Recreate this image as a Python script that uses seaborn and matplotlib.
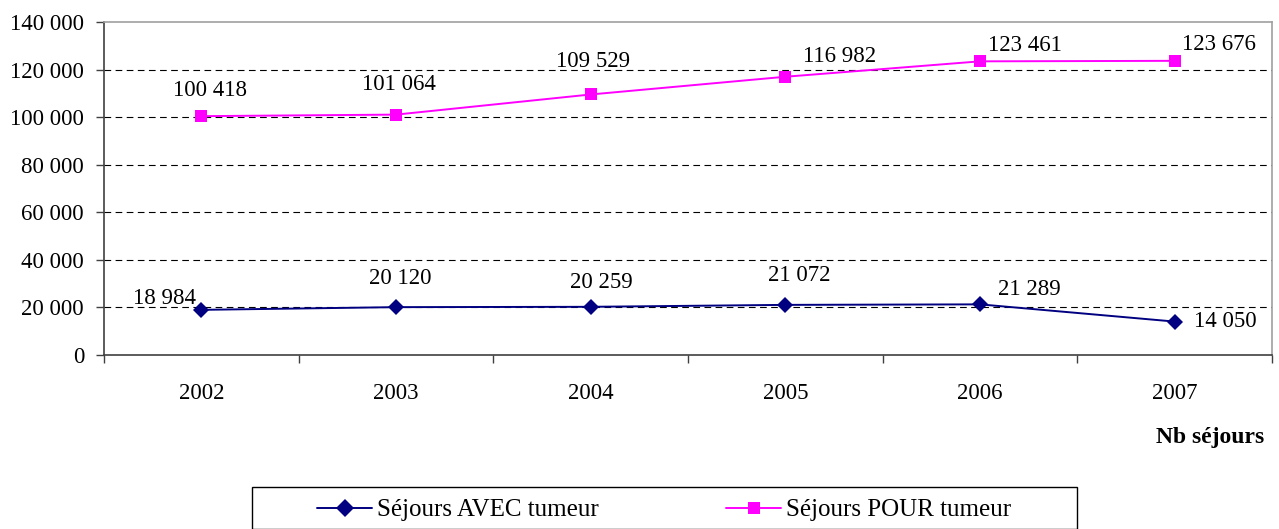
import matplotlib
matplotlib.use("Agg")
import matplotlib.pyplot as plt
import seaborn as sns
import pandas as pd
from matplotlib.ticker import FixedLocator, NullFormatter, FuncFormatter
from matplotlib.lines import Line2D
from matplotlib.patches import Rectangle

years = ["2002", "2003", "2004", "2005", "2006", "2007"]
avec = [18984, 20120, 20259, 21072, 21289, 14050]
pour = [100418, 101064, 109529, 116982, 123461, 123676]
series_names = ["Séjours AVEC tumeur", "Séjours POUR tumeur"]
y_ticks = [0, 20000, 40000, 60000, 80000, 100000, 120000, 140000]

sns.set_style("white")
plt.rcParams["font.family"] = ["Liberation Serif", "DejaVu Serif"]
plt.rcParams["text.color"] = "black"
plt.rcParams["xtick.color"] = "#404040"
plt.rcParams["ytick.color"] = "#404040"
plt.rcParams["xtick.labelcolor"] = "black"
plt.rcParams["ytick.labelcolor"] = "black"

W, H = 1279, 529
fig = plt.figure(figsize=(W / 100, H / 100), dpi=100)
ax = fig.add_axes([104 / W, 1 - 355 / H, (1272 - 104) / W, (355 - 22) / H])

x = list(range(len(years)))
df = pd.DataFrame({
    "x": x * 2,
    "value": avec + pour,
    "serie": [series_names[0]] * 6 + [series_names[1]] * 6,
})
palette = {series_names[0]: "#000080", series_names[1]: "#FF00FF"}
sns.lineplot(data=df, x="x", y="value", hue="serie", style="serie",
             markers={series_names[0]: "D", series_names[1]: "s"},
             dashes=False, palette=palette, ax=ax, linewidth=1.4,
             markersize=8.5, markeredgewidth=0, legend=False)

ax.set_xlim(-0.5, 5.5)
ax.set_ylim(0, 140000)
ax.yaxis.set_major_locator(FixedLocator(y_ticks))
ax.yaxis.set_major_formatter(FuncFormatter(lambda v, p: f"{int(v):,}".replace(",", " ")))
ax.xaxis.set_major_locator(FixedLocator([i - 0.5 for i in range(len(years) + 1)]))
ax.xaxis.set_major_formatter(NullFormatter())
ax.xaxis.set_minor_locator(FixedLocator(x))
ax.set_xticklabels(years, minor=True)
ax.tick_params(axis="x", which="major", length=6, width=1, direction="out", bottom=True)
ax.tick_params(axis="x", which="minor", length=0, pad=20, labelsize=16.5)
ax.tick_params(axis="y", which="major", length=6, width=1, direction="out", left=True,
               labelsize=16.5, pad=8.4)
ax.set_xlabel("")
ax.set_ylabel("")

for yv in y_ticks[1:-1]:
    ax.axhline(yv, color="black", linestyle=(0, (6, 4)), linewidth=0.8, zorder=0)

for s in ["left", "bottom"]:
    ax.spines[s].set_color("#404040")
    ax.spines[s].set_linewidth(1.2)
for s in ["top", "right"]:
    ax.spines[s].set_color("#A0A0A0")
    ax.spines[s].set_linewidth(1.2)


def fmt(v):
    return f"{v:,}".replace(",", " ")


px = 0.72
pour_off = [(9, 25), (3, 29), (2, 32), (54, 19), (45, 15), (44, 15)]
avec_off = [(-37, 10), (4, 28), (11, 23), (14, 28), (49, 14), (51, -1)]
for i in range(len(years)):
    dx, dy = pour_off[i]
    ax.annotate(fmt(pour[i]), (x[i], pour[i]), xytext=(dx * px, (dy + 1) * px),
                textcoords="offset points", ha="center", va="center", fontsize=16.5)
    dx, dy = avec_off[i]
    ax.annotate(fmt(avec[i]), (x[i], avec[i]), xytext=(dx * px, (dy + 1) * px),
                textcoords="offset points", ha="center", va="center", fontsize=16.5)

fig.text(1210 / W, 1 - 437 / H, "Nb séjours", ha="center", va="center",
         fontsize=17, fontweight="bold")

# legend frame
fig.patches.append(Rectangle((252 / W, 0), (1077 - 252) / W, 1 - 487 / H,
                             transform=fig.transFigure, fill=False,
                             edgecolor="black", linewidth=1.0))
handles = [Line2D([], [], color="#000080", marker="D", markersize=9, markeredgewidth=0, linewidth=1.4),
           Line2D([], [], color="#FF00FF", marker="s", markersize=9, markeredgewidth=0, linewidth=1.4)]
leg = fig.legend(handles, series_names, loc="center left",
                 bbox_to_anchor=(317 / W, 1 - 510 / H),
                 ncol=2, fontsize=18, frameon=False, borderpad=0, borderaxespad=0,
                 columnspacing=5.1, handlelength=2.2, handletextpad=0.2)

fig.savefig("out.png", dpi=100)
